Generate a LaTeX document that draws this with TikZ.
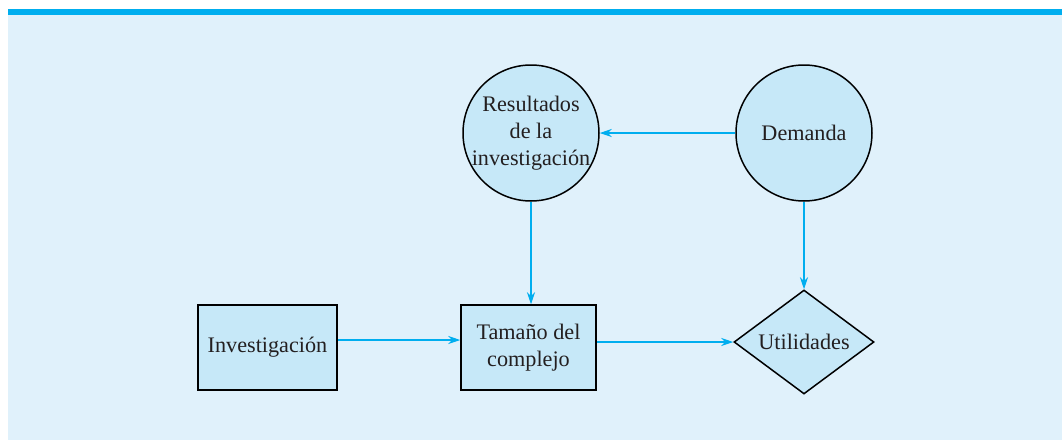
\documentclass[tikz,border=0pt]{standalone}
\usepackage{fontspec}
\setmainfont{Liberation Serif}
\usetikzlibrary{arrows.meta,positioning,shapes.geometric}
\definecolor{barcyan}{RGB}{0,174,239}
\definecolor{bgblue}{RGB}{224,241,251}
\definecolor{nodeblue}{RGB}{198,232,248}
\definecolor{inkgray}{RGB}{35,31,32}

\begin{document}
\begin{tikzpicture}[x=0.5pt,y=-0.5pt,>={Stealth[length=6pt,width=4pt]},
    font=\fontsize{11.1}{13.6}\selectfont,text=inkgray]
    \tikzset{
      chance/.style={draw=black,line width=0.75pt,fill=nodeblue,circle,minimum size=68pt,inner sep=-6pt,align=center},
      decision/.style={draw=black,line width=0.75pt,fill=nodeblue,rectangle,minimum width=69.5pt,minimum height=42.5pt,inner sep=0pt,align=center},
      payoff/.style={draw=black,line width=0.75pt,fill=nodeblue,diamond,aspect=1.35,minimum width=70pt,minimum height=52pt,inner sep=0pt},
      link/.style={->,draw=barcyan,line width=0.6pt}
    }
    \useasboundingbox (0,0) rectangle (1062,440);
    \fill[bgblue] (8,9) rectangle (1062,440);
    \fill[barcyan] (8,9) rectangle (1062,15);

    \node[chance] (res) at (531,133) {Resultados\\de la\\investigación};
    \node[chance] (dem) at (804,133) {Demanda};
    \node[decision] (inv) at (267.5,347.5) {Investigación};
    \node[decision,minimum width=67.5pt] (tam) at (528.5,347.5) {Tamaño del\\complejo};
    \node[payoff] (uti) at (804,342) {Utilidades};

    \draw[link] (dem) -- (res);
    \draw[link] (res) -- (res|-tam.north);
    \draw[link] (dem) -- (uti);
    \draw[link] ([yshift=3.75pt]inv.east) -- ([yshift=3.75pt]tam.west);
    \draw[link] (tam.east|-uti) -- (uti);
  \end{tikzpicture}
\end{document}
